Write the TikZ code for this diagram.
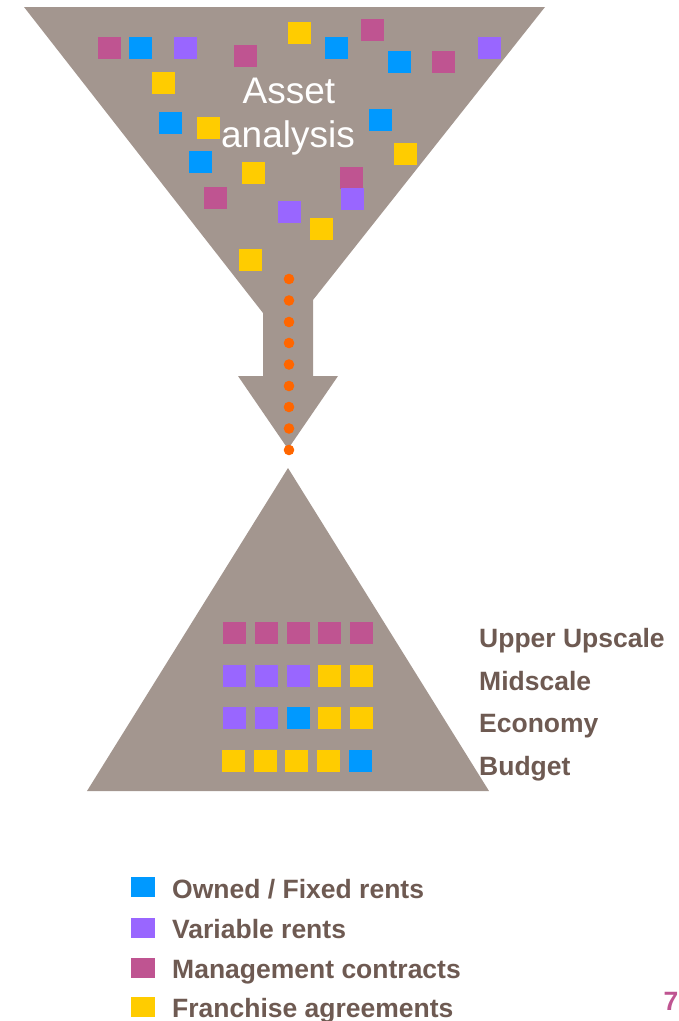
\documentclass[tikz,border=0pt]{standalone}
\usepackage{fontspec}
\setmainfont{Liberation Sans}

\definecolor{funnelgray}{RGB}{163,150,143}
\definecolor{ownblue}{RGB}{0,153,255}
\definecolor{varpurple}{RGB}{153,102,255}
\definecolor{mgmtpink}{RGB}{191,84,145}
\definecolor{franyellow}{RGB}{255,204,0}
\definecolor{labelbrown}{RGB}{110,90,82}
\definecolor{dotorange}{RGB}{255,102,0}

\tikzset{
  tile/.style={rectangle, inner sep=0pt, minimum width=23pt, minimum height=22pt},
  keytile/.style={rectangle, inner sep=0pt, minimum width=24pt, minimum height=20pt},
  tier/.style={anchor=base west, inner sep=0pt, text=labelbrown, font=\fontsize{26.5}{31}\selectfont\bfseries},
}

\begin{document}
\begin{tikzpicture}[x=1pt, y=-1pt]
    \useasboundingbox (0,0) rectangle (679,1021);

    % Funnel, spout and arrow head in one piece
    \fill[funnelgray] (24,7) -- (545,7) -- (313,300) -- (313,376) -- (338,376)
        -- (288,449) -- (238,376) -- (263,376) -- (263,313) -- cycle;

    % Pyramid
    \fill[funnelgray] (87,791) -- (489,791) -- (288,468) -- cycle;

    % Loose contracts in the funnel
    \node[tile, fill=mgmtpink]   (f1)  at (109,48)  {};
    \node[tile, fill=ownblue]    (f2)  at (140,48)  {};
    \node[tile, fill=varpurple]  (f3)  at (185,48)  {};
    \node[tile, fill=mgmtpink]   (f4)  at (245,56)  {};
    \node[tile, fill=franyellow] (f5)  at (299,33)  {};
    \node[tile, fill=ownblue]    (f6)  at (336,48)  {};
    \node[tile, fill=mgmtpink]   (f7)  at (372,30)  {};
    \node[tile, fill=ownblue]    (f8)  at (399,62)  {};
    \node[tile, fill=mgmtpink]   (f9)  at (443,62)  {};
    \node[tile, fill=varpurple]  (f10) at (489,48)  {};
    \node[tile, fill=franyellow] (f11) at (163,83)  {};
    \node[tile, fill=ownblue]    (f12) at (170,123) {};
    \node[tile, fill=franyellow] (f13) at (208,128) {};
    \node[tile, fill=ownblue]    (f14) at (380,120) {};
    \node[tile, fill=franyellow] (f15) at (405,154) {};
    \node[tile, fill=ownblue]    (f16) at (200,162) {};
    \node[tile, fill=franyellow] (f17) at (253,173) {};
    \node[tile, fill=mgmtpink]   (f18) at (351,178) {};
    \node[tile, fill=varpurple]  (f19) at (352,199) {};
    \node[tile, fill=mgmtpink]   (f20) at (215,198) {};
    \node[tile, fill=varpurple]  (f21) at (289,212) {};
    \node[tile, fill=franyellow] (f22) at (321,229) {};
    \node[tile, fill=franyellow] (f23) at (250,260) {};

    \node[text=white, inner sep=0pt, anchor=base, font=\fontsize{37}{44}\selectfont] (asset) at (289,103) {Asset};
    \node[text=white, inner sep=0pt, anchor=base, font=\fontsize{37}{44}\selectfont] (analysis) at (288,147) {analysis};

    % Dotted flow down the spout
    \fill[dotorange] (289,279) circle (5.3);
    \fill[dotorange] (289,300.5) circle (5.3);
    \fill[dotorange] (289,322) circle (5.3);
    \fill[dotorange] (289,343) circle (5.3);
    \fill[dotorange] (289,364.5) circle (5.3);
    \fill[dotorange] (289,386) circle (5.3);
    \fill[dotorange] (289,407) circle (5.3);
    \fill[dotorange] (289,428.5) circle (5.3);
    \fill[dotorange] (289,450) circle (5.3);

    % Sorted portfolio, one row per segment
    \node[tile, fill=mgmtpink]   (u1) at (234.5,633) {};
    \node[tile, fill=mgmtpink]   (u2) at (266.5,633) {};
    \node[tile, fill=mgmtpink]   (u3) at (298.5,633) {};
    \node[tile, fill=mgmtpink]   (u4) at (329.5,633) {};
    \node[tile, fill=mgmtpink]   (u5) at (361.5,633) {};

    \node[tile, fill=varpurple]  (m1) at (234.5,676) {};
    \node[tile, fill=varpurple]  (m2) at (266.5,676) {};
    \node[tile, fill=varpurple]  (m3) at (298.5,676) {};
    \node[tile, fill=franyellow] (m4) at (329.5,676) {};
    \node[tile, fill=franyellow] (m5) at (361.5,676) {};

    \node[tile, fill=varpurple]  (e1) at (234.5,718) {};
    \node[tile, fill=varpurple]  (e2) at (266.5,718) {};
    \node[tile, fill=ownblue]    (e3) at (298.5,718) {};
    \node[tile, fill=franyellow] (e4) at (329.5,718) {};
    \node[tile, fill=franyellow] (e5) at (361.5,718) {};

    \node[tile, fill=franyellow] (b1) at (233.5,760.5) {};
    \node[tile, fill=franyellow] (b2) at (265.5,760.5) {};
    \node[tile, fill=franyellow] (b3) at (296.5,760.5) {};
    \node[tile, fill=franyellow] (b4) at (328.5,760.5) {};
    \node[tile, fill=ownblue]    (b5) at (360.5,760.5) {};

    \node[tier] (upper) at (479,647) {Upper Upscale};
    \node[tier] (mid)   at (479,690) {Midscale};
    \node[tier] (eco)   at (479,732) {Economy};
    \node[tier] (bud)   at (479,775) {Budget};

    % Legend
    \node[keytile, fill=ownblue]    (k1) at (143,887) {};
    \node[keytile, fill=varpurple]  (k2) at (143,928) {};
    \node[keytile, fill=mgmtpink]   (k3) at (143,968) {};
    \node[keytile, fill=franyellow] (k4) at (143,1007) {};

    \node[tier] (own)  at (172,898)  {Owned / Fixed rents};
    \node[tier] (var)  at (172,938)  {Variable rents};
    \node[tier] (mgmt) at (172,978)  {Management contracts};
    \node[tier] (fran) at (172,1017) {Franchise agreements};

    % Page number in the corner
    \node[anchor=base east, inner sep=0pt, text=mgmtpink, font=\fontsize{26.5}{31}\selectfont\bfseries] (page) at (678.5,1010) {7};
\end{tikzpicture}
\end{document}
